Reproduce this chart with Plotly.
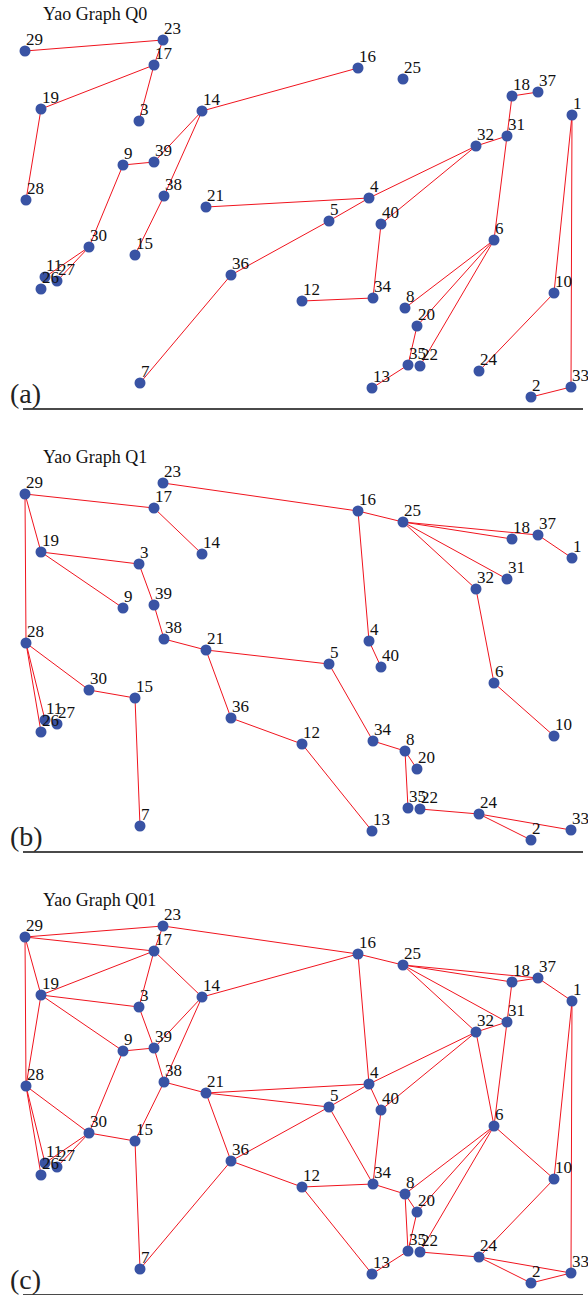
import plotly.graph_objects as go

# Node ids and positions (same point set in every panel)
node_ids = list(range(1, 41))
node_x = [549, 508, 116, 346, 306, 471, 117, 382, 100, 531,
          22, 279, 349, 179, 112, 335, 131, 489, 18, 394,
          183, 397, 140, 456, 380, 18, 34, 3, 2, 66,
          484, 453, 548, 350, 385, 208, 515, 141, 131, 358]
node_y = [293, 11, 287, 210, 187, 168, 25, 100, 243, 115,
          131, 107, 20, 297, 153, 340, 343, 312, 299, 82,
          201, 42, 368, 37, 329, 119, 127, 208, 357, 161,
          272, 262, 21, 110, 43, 133, 316, 212, 246, 184]

# Edges of the two Yao graphs
edges_q0 = [(29, 23), (23, 17), (17, 19), (17, 3), (19, 28), (14, 16), (14, 39),
            (14, 38), (38, 15), (39, 9), (9, 30), (30, 11), (30, 27), (21, 4),
            (4, 5), (5, 36), (36, 7), (4, 32), (32, 40), (32, 31), (31, 18),
            (18, 37), (31, 6), (40, 34), (34, 12), (6, 8), (6, 20), (6, 22),
            (20, 35), (35, 13), (1, 10), (1, 33), (10, 24), (2, 33)]
edges_q1 = [(29, 17), (23, 16), (17, 14), (29, 19), (29, 28), (19, 3), (19, 9),
            (3, 39), (39, 38), (38, 21), (21, 5), (21, 36), (36, 12), (12, 13),
            (28, 30), (28, 11), (28, 26), (30, 15), (15, 7), (16, 25), (16, 4),
            (4, 40), (25, 18), (25, 37), (25, 31), (25, 32), (37, 1), (32, 6),
            (6, 10), (5, 34), (34, 8), (8, 20), (8, 35), (22, 24), (24, 33),
            (24, 2)]
edges_q01 = edges_q0 + [e for e in edges_q1
                        if e not in edges_q0 and (e[1], e[0]) not in edges_q0]

panel_titles = ["Yao Graph Q0", "Yao Graph Q1", "Yao Graph Q01"]
panel_tags = ["(a)", "(b)", "(c)"]
panel_edges = [edges_q0, edges_q1, edges_q01]

W, H = 588, 1295
PANEL_H = 443
BASE = [408, 851, 1294]

pos = {n: (x, y) for n, x, y in zip(node_ids, node_x, node_y)}
SERIF = "Liberation Serif, Times New Roman, serif"

fig = go.Figure()
annotations = []
for i in range(3):
    xa = "x" if i == 0 else f"x{i+1}"
    ya = "y" if i == 0 else f"y{i+1}"
    ex, ey = [], []
    for a, b in panel_edges[i]:
        ex += [pos[a][0], pos[b][0], None]
        ey += [pos[a][1], pos[b][1], None]
    fig.add_trace(go.Scatter(x=ex, y=ey, mode="lines", xaxis=xa, yaxis=ya,
                             line=dict(color="#f0141e", width=1),
                             hoverinfo="skip", showlegend=False, cliponaxis=False))
    fig.add_trace(go.Scatter(x=node_x, y=node_y, mode="markers", xaxis=xa, yaxis=ya,
                             marker=dict(color="#3953a4", size=11, line=dict(width=0)),
                             showlegend=False, cliponaxis=False))
    for n, x, y in zip(node_ids, node_x, node_y):
        annotations.append(dict(x=x, y=y, xref=xa, yref=ya, text=str(n),
                                showarrow=False, xanchor="left", yanchor="middle",
                                xshift=-1, yshift=11.5,
                                font=dict(family=SERIF, size=17, color="#111")))
    top_px = i * PANEL_H
    annotations.append(dict(x=41 / W, y=1 - (top_px + 14) / H, xref="paper", yref="paper",
                            text=panel_titles[i], showarrow=False,
                            xanchor="left", yanchor="middle",
                            font=dict(family=SERIF, size=18, color="#111")))
    annotations.append(dict(x=8 / W, y=1 - (top_px + 393) / H, xref="paper", yref="paper",
                            text=panel_tags[i], showarrow=False,
                            xanchor="left", yanchor="middle",
                            font=dict(family=SERIF, size=28, color="#222")))

layout = dict(width=W, height=H, autosize=False,
              margin=dict(l=0, r=0, t=0, b=0, pad=0),
              paper_bgcolor="white", plot_bgcolor="white",
              annotations=annotations)
for i in range(3):
    xk = "xaxis" if i == 0 else f"xaxis{i+1}"
    yk = "yaxis" if i == 0 else f"yaxis{i+1}"
    ya = "y" if i == 0 else f"y{i+1}"
    xa = "x" if i == 0 else f"x{i+1}"
    bottom = BASE[i]
    top = BASE[i] - 408
    layout[xk] = dict(domain=[23 / W, 583 / W], range=[0, 560], anchor=ya,
                      showgrid=False, zeroline=False, showticklabels=False,
                      ticks="", showline=True, linecolor="#4a4a4a", linewidth=1.5)
    layout[yk] = dict(domain=[(H - bottom) / H, (H - top) / H], range=[0, 408],
                      anchor=xa, showgrid=False, zeroline=False,
                      showticklabels=False, ticks="", showline=False)
fig.update_layout(**layout)
fig.write_html("out.html", config={"displayModeBar": False},
               post_script="document.body.style.margin='0';"
                           "document.body.style.overflow='hidden';")
